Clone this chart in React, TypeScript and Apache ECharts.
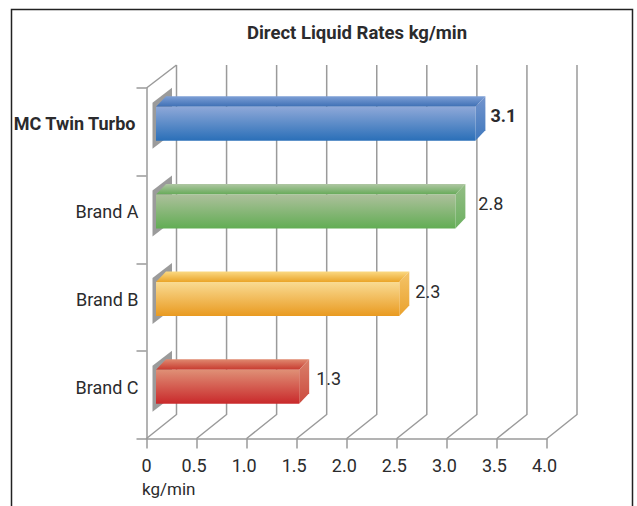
import React, { useEffect, useRef } from "react";
import * as echarts from "echarts";

const categories = ["MC Twin Turbo", "Brand A", "Brand B", "Brand C"];
const labelValues = ["3.1", "2.8", "2.3", "1.3"];
const barLengths = [3.19, 2.99, 2.43, 1.43];
const axisMax = 4;
const tickStep = 0.5;
const xTicks = [0, 0.5, 1, 1.5, 2, 2.5, 3, 3.5, 4];
const axisUnit = "kg/min";
const chartTitle = "Direct Liquid Rates kg/min";

const FONT = "Roboto, 'Liberation Sans', sans-serif";
const INK = "#2b2b2d";
const GRID = "#9a9a9a";
const labelGaps = [15, 23, 16, 17];

const faces = [
  { front: ["#8ea8d8", "#2a6fb8"], top: ["#7d9fd6", "#3d6fb4"], side: ["#7394cd", "#3f78bd"] },
  { front: ["#adc09c", "#62ad54"], top: ["#b0c7a4", "#66aa58"], side: ["#93bd85", "#6cb060"] },
  { front: ["#f9db93", "#e99a20"], top: ["#fbd982", "#eaa428"], side: ["#f4c469", "#eaa22d"] },
  { front: ["#df9076", "#c9292b"], top: ["#e08a70", "#c73a2f"], side: ["#d9806a", "#cc4a3e"] },
];

const grad = (c: string[]) => ({
  type: "linear", x: 0, y: 0, x2: 0, y2: 1,
  colorStops: [{ offset: 0, color: c[0] }, { offset: 1, color: c[1] }],
});

export default function App() {
  const ref = useRef<HTMLDivElement>(null);
  useEffect(() => {
    document.body.style.margin = "0";
    const chart = echarts.init(ref.current!, undefined, { renderer: "svg" });
    const DX = 30, DY = 24, TOP = 65;

    const renderWall = (params: any, api: any) => {
      const v = api.value(0);
      const cs = params.coordSys;
      const bottom = cs.y + cs.height;
      const x = api.coord([v, 0])[0];
      const children: any[] = [{
        type: "polyline",
        shape: { points: [[x, bottom], [x + DX, bottom - DY], [x + DX, TOP]] },
        style: { stroke: GRID, lineWidth: 1.5, fill: "none" },
      }];
      if (v === 0) {
        children.push({
          type: "line",
          shape: { x1: x, y1: cs.y, x2: x + DX, y2: TOP },
          style: { stroke: GRID, lineWidth: 1.5 },
        });
      }
      return { type: "group", children };
    };

    const renderBar = (_p: any, api: any) => {
      const i = api.value(1);
      const [x1, cy] = api.coord([api.value(0), i]);
      const x0base = api.coord([0, i])[0];
      const y = cy - 8;
      const h = 34, dep = 10, depY = 10.5;
      const left = x0base + 9.5;
      const right = x1 + 9.5;
      const yTop = y - h / 2, yBot = y + h / 2;
      const f = faces[i];
      return {
        type: "group",
        children: [
          { type: "polygon", shape: { points: [[left - 3.5, yTop - 4], [left + 16, yTop - 19], [left + 16, yBot - 7], [left - 3.5, yBot + 8]] }, style: { fill: "#9b9b9b" } },
          { type: "polygon", shape: { points: [[left, yTop], [left + dep, yTop - depY], [right + dep, yTop - depY], [right, yTop]] }, style: { fill: grad(f.top) } },
          { type: "polygon", shape: { points: [[right, yTop], [right + dep, yTop - depY], [right + dep, yBot - depY], [right, yBot]] }, style: { fill: grad(f.side) } },
          { type: "rect", shape: { x: left, y: yTop, width: right - left, height: h }, style: { fill: grad(f.front) } },
          {
            type: "text",
            x: right + labelGaps[i],
            y: y - 8,
            style: {
              text: labelValues[i], fill: INK, font: `${i === 0 ? "bold " : ""}18px ${FONT}`,
              textAlign: "left", textVerticalAlign: "middle",
            },
          },
        ],
      };
    };

    chart.setOption({
      animation: false,
      backgroundColor: "#ffffff",
      title: {
        text: chartTitle, left: 352, top: 18, textAlign: "center",
        textStyle: { fontFamily: FONT, fontWeight: "bold", fontSize: 18.5, color: INK },
      },
      grid: { left: 146.5, top: 88, width: 400.5, height: 350.5 },
      xAxis: {
        type: "value", min: 0, max: axisMax, interval: tickStep,
        splitLine: { show: false },
        axisLine: { show: true, lineStyle: { color: GRID, width: 1.5 } },
        axisTick: { show: true, length: 10, lineStyle: { color: GRID, width: 1.5 } },
        axisLabel: {
          margin: 18, hideOverlap: false, showMinLabel: true, showMaxLabel: true,
          formatter: (v: number) => (v === 0 ? "{z|0}" : `{a|${v.toFixed(1)}}`),
          rich: {
            z: { fontFamily: FONT, fontSize: 18, color: INK },
            a: { fontFamily: FONT, fontSize: 18, color: INK, padding: [0, 5, 0, 0] },
          },
        },
      },
      yAxis: {
        type: "category", inverse: true, data: categories,
        axisLine: { show: true, lineStyle: { color: GRID, width: 1.5 } },
        axisTick: { show: true, length: 10, lineStyle: { color: GRID, width: 1.5 } },
        axisLabel: {
          margin: 8,
          formatter: (v: string) => (v === categories[0] ? `{b|${v}}` : `{n|${v}}`),
          rich: {
            b: { fontFamily: FONT, fontWeight: "bold", fontSize: 18, color: INK, padding: [0, 3, 17, 0] },
            n: { fontFamily: FONT, fontSize: 18, color: INK, padding: [0, 0, 15, 0] },
          },
        },
      },
      graphic: [
        {
          type: "polyline", silent: true, z: 10,
          shape: { points: [[11.5, 506], [11.5, 9.5], [632.5, 9.5], [632.5, 506]] },
          style: { stroke: "#222222", lineWidth: 1.5, fill: "none" },
        },
        {
          type: "text", x: 142, y: 489, silent: true,
          style: { text: axisUnit, fill: INK, font: `17px ${FONT}`, textVerticalAlign: "middle" },
        },
      ],
      series: [
        {
          type: "custom", name: "walls", renderItem: renderWall, clip: false, silent: true, z: 1,
          data: xTicks.map((v) => [v, 0]), encode: { x: 0, y: 1 },
        },
        {
          type: "custom", name: "bars", renderItem: renderBar, clip: false, silent: true, z: 2,
          data: barLengths.map((v, i) => [v, i]), encode: { x: 0, y: 1 },
        },
      ],
    });
    return () => chart.dispose();
  }, []);
  return <div ref={ref} style={{ width: 637, height: 506 }} />;
}
